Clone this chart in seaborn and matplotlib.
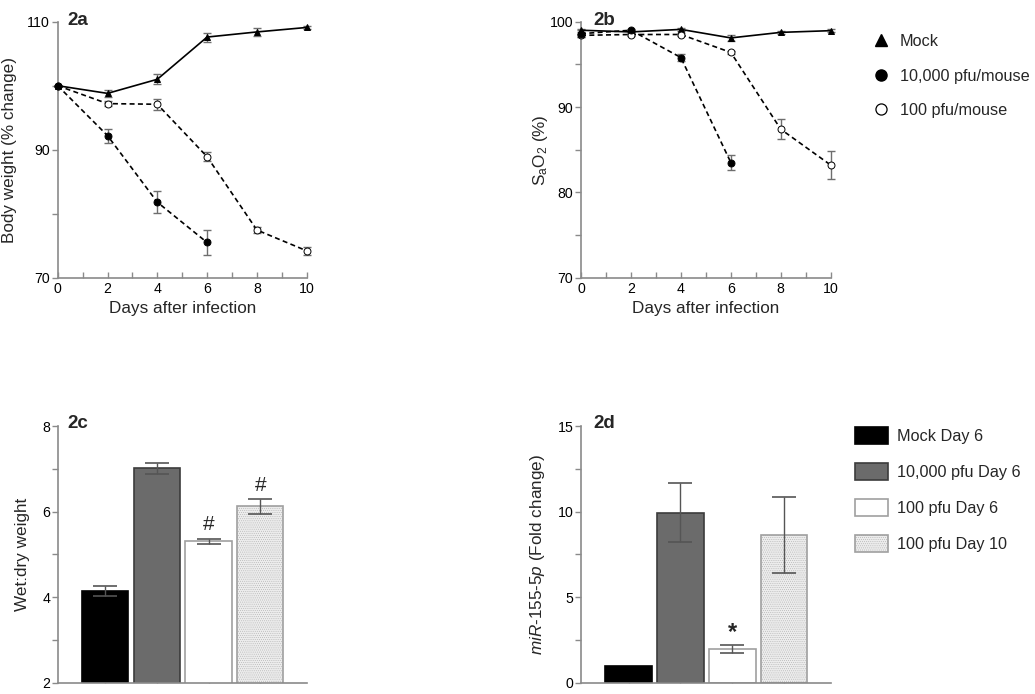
import numpy as np
import pandas as pd
import matplotlib
matplotlib.use("Agg")
import matplotlib.pyplot as plt
import seaborn as sns
from matplotlib.lines import Line2D
from matplotlib.patches import Patch
from matplotlib.ticker import MultipleLocator, FixedLocator

# ---------------- data ----------------
days = [0, 2, 4, 6, 8, 10]
days_high = [0, 2, 4, 6]

bw_mock = [100.0, 98.8, 101.0, 107.6, 108.4, 109.1]
bw_mock_err = [0.0, 0.5, 0.8, 0.7, 0.6, 0.2]
bw_high = [100.0, 92.2, 81.8, 75.5]
bw_high_err = [0.0, 1.1, 1.75, 1.95]
bw_low = [100.0, 97.2, 97.1, 88.9, 77.45, 74.2]
bw_low_err = [0.0, 0.4, 0.9, 0.7, 0.5, 0.6]

sao2_mock = [99.0, 98.8, 99.1, 98.1, 98.75, 98.95]
sao2_mock_err = [0.2, 0.2, 0.2, 0.4, 0.2, 0.2]
sao2_high = [98.6, 99.0, 95.8, 83.5]
sao2_high_err = [0.4, 0.2, 0.4, 0.9]
sao2_low = [98.4, 98.5, 98.5, 96.4, 87.4, 83.2]
sao2_low_err = [0.2, 0.2, 0.2, 0.2, 1.2, 1.6]

line_labels = ["Mock", "10,000 pfu/mouse", "100 pfu/mouse"]

bar_labels = ["Mock Day 6", "10,000 pfu Day 6", "100 pfu Day 6", "100 pfu Day 10"]
wetdry = [4.15, 7.01, 5.31, 6.12]
wetdry_err = [0.12, 0.13, 0.06, 0.17]
wetdry_marks = ["", "", "#", "#"]
mir = [1.0, 9.93, 1.97, 8.63]
mir_err = [np.nan, 1.73, 0.24, 2.22]
mir_marks = ["", "", "*", ""]

bar_faces = ["#000000", "#6b6b6b", "#ffffff", "#ececec"]
bar_edges = ["#000000", "#3c3c3c", "#a0a0a0", "#a0a0a0"]
bar_hatch = [None, None, None, "........"]

# ---------------- style ----------------
sns.set_theme(style="ticks")
plt.rcParams["font.family"] = ["Liberation Sans", "DejaVu Sans"]
plt.rcParams["mathtext.fontset"] = "custom"
plt.rcParams["mathtext.rm"] = "Liberation Sans"
plt.rcParams["mathtext.it"] = "Liberation Sans:italic"
plt.rcParams["mathtext.default"] = "regular"
plt.rcParams["hatch.linewidth"] = 0.25

SPINE = "#8a8a8a"
ERR = "#6e6e6e"
TICKFS = 10.2
LABFS = 12.3
LEGFS = 11.7

fig = plt.figure(figsize=(10.35, 6.94), dpi=100)
W, H = 1035, 694

def add_ax(l, t, r, b):
    return fig.add_axes([l / W, 1 - b / H, (r - l) / W, (b - t) / H])

ax_a = add_ax(57.7, 21.7, 306.7, 277.7)
ax_b = add_ax(581, 21.7, 830.7, 277.7)
ax_c = add_ax(57.7, 426, 306.7, 682.7)
ax_d = add_ax(581, 426, 830.7, 682.7)

def style_axis(ax):
    sns.despine(ax=ax)
    for s in ["left", "bottom"]:
        ax.spines[s].set_color(SPINE)
        ax.spines[s].set_linewidth(1.2)
    ax.tick_params(axis="y", which="both", direction="out", length=4, width=1,
                   color=SPINE, labelsize=TICKFS, pad=1.5, labelcolor="black")
    ax.tick_params(axis="x", which="both", direction="in", length=4, width=1,
                   color=SPINE, labelsize=TICKFS, pad=3, labelcolor="black")
    ax.grid(False)
    ax.set_facecolor("white")

# ---------------- line panels ----------------
def line_panel(ax, mock, mock_e, high, high_e, low, low_e, ylim, major, minor):
    series = [
        (days, mock, mock_e, "^", "black", "-"),
        (days, low, low_e, "o", "white", (0, (3, 2))),
        (days_high, high, high_e, "o", "black", (0, (3, 2))),
    ]
    for k, (x, y, e, mk, mfc, ls) in enumerate(series):
        ax.errorbar(x, y, yerr=e, fmt="none", ecolor=ERR, elinewidth=1,
                    capsize=2.6, capthick=1, zorder=2, clip_on=False)
        sns.lineplot(x=x, y=y, ax=ax, color="black", linestyle=ls, linewidth=1.2,
                     marker=mk, markersize=5.0,
                     markerfacecolor=mfc, markeredgecolor="black",
                     markeredgewidth=0.7, errorbar=None, zorder=3 + k, clip_on=False)
    ax.set_xlim(0, 10)
    ax.set_ylim(*ylim)
    ax.xaxis.set_major_locator(MultipleLocator(2))
    ax.xaxis.set_minor_locator(MultipleLocator(1))
    ax.yaxis.set_major_locator(FixedLocator(major))
    ax.yaxis.set_minor_locator(FixedLocator(minor))
    ax.set_xlabel("Days after infection", fontsize=LABFS, labelpad=4)
    style_axis(ax)

line_panel(ax_a, bw_mock, bw_mock_err, bw_high, bw_high_err, bw_low, bw_low_err,
           (70, 110), [70, 90, 110], [80, 100])
ax_a.set_ylabel("Body weight (% change)", fontsize=LABFS)
ax_a.yaxis.set_label_coords(-0.165, 0.5)

line_panel(ax_b, sao2_mock, sao2_mock_err, sao2_high, sao2_high_err, sao2_low, sao2_low_err,
           (70, 100), [70, 80, 90, 100], [75, 85, 95])
ax_b.set_ylabel(r"S$_{a}$O$_{2}$ (%)", fontsize=LABFS)
ax_b.yaxis.set_label_coords(-0.125, 0.5)

handles = [
    Line2D([], [], linestyle="none", marker="^", color="black", markersize=8),
    Line2D([], [], linestyle="none", marker="o", color="black", markersize=8),
    Line2D([], [], linestyle="none", marker="o", markerfacecolor="white",
           markeredgecolor="black", markeredgewidth=0.9, markersize=8),
]
fig.legend(handles, line_labels, loc="upper left", bbox_to_anchor=(874 / W, 1 - 34 / H),
           frameon=False, fontsize=LEGFS, handlelength=0.9, handletextpad=0.7,
           labelspacing=1.2, borderpad=0, borderaxespad=0)

# ---------------- bar panels ----------------
def bar_panel(ax, vals, errs, marks, ylim, major, minor, mark_fs, mark_off, mark_weight):
    df = pd.DataFrame({"group": bar_labels, "value": vals})
    sns.barplot(data=df, x="group", y="value", hue="group", palette=bar_faces,
                dodge=False, legend=False, width=0.9, errorbar=None, ax=ax,
                linewidth=1.2, zorder=2)
    for p, ec, h in zip(ax.patches, bar_edges, bar_hatch):
        p.set_edgecolor(ec)
        if h:
            p.set_hatch(h)
    xs = np.arange(len(vals))
    ax.errorbar(xs, vals, yerr=errs, fmt="none", ecolor="#555555", elinewidth=1,
                capsize=8.5, capthick=1.2, zorder=3)
    for x, v, e, m in zip(xs, vals, errs, marks):
        if m:
            ax.text(x, v + e + mark_off, m, ha="center", va="center",
                    fontsize=mark_fs, fontweight=mark_weight)
    ax.set_xlim(-0.92, 3.9)
    ax.set_ylim(*ylim)
    ax.set_xlabel("")
    ax.set_xticks(xs)
    ax.set_xticklabels([])
    ax.yaxis.set_major_locator(FixedLocator(major))
    ax.yaxis.set_minor_locator(FixedLocator(minor))
    style_axis(ax)

bar_panel(ax_c, wetdry, wetdry_err, wetdry_marks, (2, 8), [2, 4, 6, 8], [3, 5, 7],
          15, 0.33, "normal")
ax_c.set_ylabel("Wet:dry weight", fontsize=LABFS)
ax_c.yaxis.set_label_coords(-0.11, 0.5)

bar_panel(ax_d, mir, mir_err, mir_marks, (0, 15), [0, 5, 10, 15], [2.5, 7.5, 12.5],
          17, 0.75, "bold")
ax_d.set_ylabel(r"$\mathit{miR}$-$\mathit{155}$-$\mathit{5p}$ (Fold change)", fontsize=LABFS)
ax_d.yaxis.set_label_coords(-0.135, 0.5)

bar_handles = [Patch(facecolor=f, edgecolor=e, hatch=h, linewidth=1.2)
               for f, e, h in zip(bar_faces, bar_edges, bar_hatch)]
fig.legend(bar_handles, bar_labels, loc="upper left", bbox_to_anchor=(855 / W, 1 - 427 / H),
           frameon=False, fontsize=LEGFS, handlelength=2.05, handleheight=1.25,
           handletextpad=0.55, labelspacing=1.15, borderpad=0, borderaxespad=0)

# ---------------- panel titles ----------------
for txt, x, y in [("2a", 67, 25), ("2b", 593, 25), ("2c", 67, 428), ("2d", 593, 428)]:
    fig.text(x / W, 1 - y / H, txt, fontsize=13.5, fontweight="bold", ha="left", va="baseline")

fig.savefig("out.png", dpi=100, facecolor="white")
